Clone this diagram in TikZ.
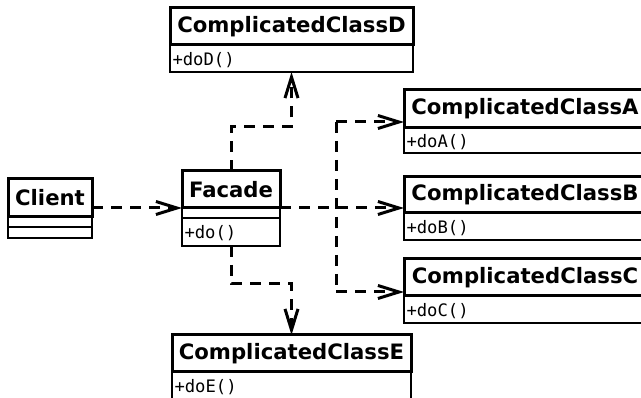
\documentclass[tikz,border=0pt]{standalone}
\usepackage{fontspec}
\setmainfont{DejaVu Sans}
\newfontfamily\monof{DejaVu Sans Mono}
\usetikzlibrary{arrows.meta,calc}
\begin{document}
\begin{tikzpicture}[x=1pt,y=-1pt,
  hdr/.style={draw, line width=3pt, anchor=north west, inner sep=0pt, outer sep=0pt,
    font=\fontsize{21.2}{23}\selectfont\bfseries},
  meth/.style={draw, line width=2.8pt, anchor=north west, inner xsep=2.5pt, inner ysep=0pt, outer sep=0pt,
    align=left, text height=15pt, text depth=1pt, font=\monof\fontsize{17.2}{19}\selectfont},
  blank/.style={draw, line width=2.8pt, anchor=north west, inner sep=0pt, outer sep=0pt},
  dashline/.style={line width=3pt, dash pattern=on 11pt off 8pt},
  dep/.style={dashline, -{Straight Barb[length=21pt,width=13pt,line width=3pt]}}
]
\useasboundingbox (0,0) rectangle (641,398);
\clip (0,0) rectangle (641,398);
\fill[white] (0,0) rectangle (641,398);

% Client
\node[hdr, minimum width=84, minimum height=38] (Ch) at (8,179) {Client};
\node[blank, minimum width=84, minimum height=10] (Cb1) at (Ch.south west) {};
\node[blank, minimum width=84, minimum height=11] (Cb2) at (Cb1.south west) {};

% Facade
\node[hdr, minimum width=98, minimum height=37] (Fh) at (182,171) {Facade};
\node[blank, minimum width=98, minimum height=10] (Fb) at (Fh.south west) {};
\node[meth, text width=93, minimum height=28] (Fm) at (Fb.south west) {+do()};

% D
\node[hdr, minimum width=243, minimum height=37] (Dh) at (170,8) {ComplicatedClassD};
\node[meth, text width=238, minimum height=27] (Dm) at (Dh.south west) {+doD()};

% A
\node[hdr, minimum width=242, minimum height=38] (Ah) at (404,90) {ComplicatedClassA};
\node[meth, text width=237, minimum height=25] (Am) at (Ah.south west) {+doA()};

% B
\node[hdr, minimum width=242, minimum height=36] (Bh) at (404,177) {ComplicatedClassB};
\node[meth, text width=237, minimum height=27] (Bm) at (Bh.south west) {+doB()};

% C
\node[hdr, minimum width=242, minimum height=37] (Xh) at (404,259) {ComplicatedClassC};
\node[meth, text width=237, minimum height=27] (Xm) at (Xh.south west) {+doC()};

% E
\node[hdr, minimum width=239, minimum height=37] (Eh) at (172,335) {ComplicatedClassE};
\node[meth, text width=234, minimum height=28] (Em) at (Eh.south west) {+doE()};

% connectors
\coordinate (ja) at (336,122);
\coordinate (jc) at (336,292);

\draw[dep] (Ch.east |- Fh.south) -- (Fh.south west);
\draw[dep] (Fh.south east) -- (Bh.west |- Fh.south);
\draw[dashline] (ja) -- (jc);
\draw[dep] (ja) -- (Ah.west |- ja);
\draw[dep] (jc) -- (Xh.west |- jc);
\draw[dep] (Fh.north) |- ($(Dm.south)+(0,55)$) -- (Dm.south);
\draw[dep] (Fm.south) |- ($(Eh.north)+(0,-51)$) -- (Eh.north);
\end{tikzpicture}
\end{document}
